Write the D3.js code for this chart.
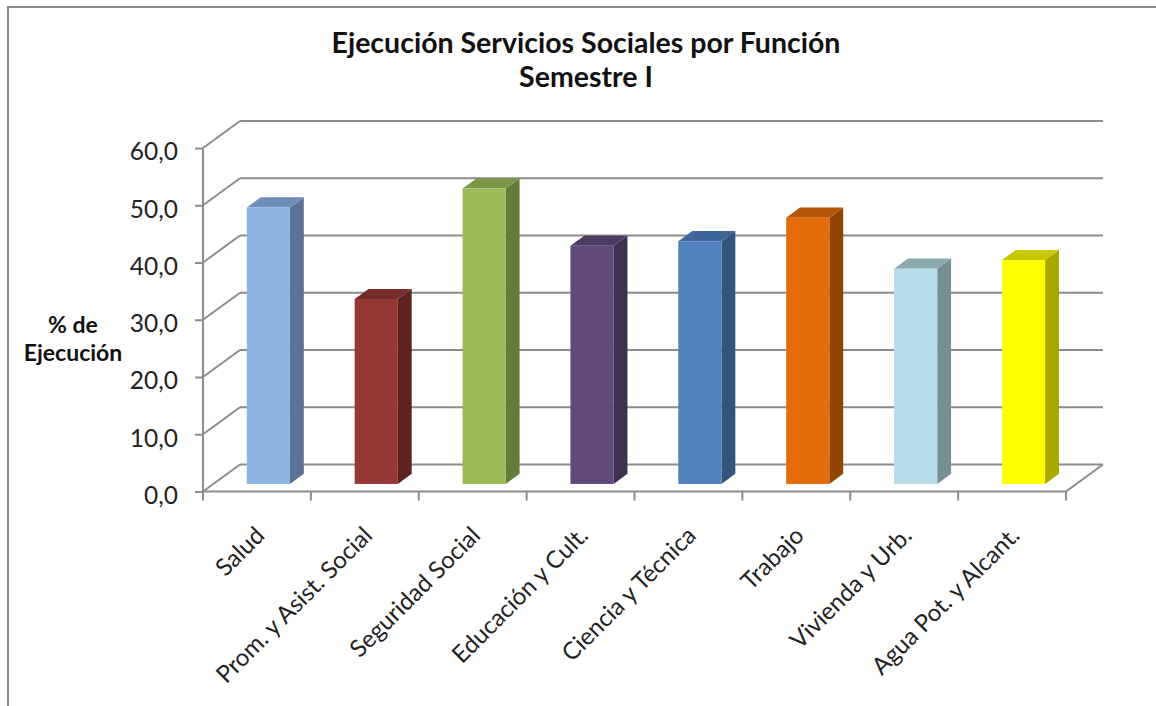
<!DOCTYPE html>
<html><head><meta charset="utf-8">
<script src="https://cdn.jsdelivr.net/npm/d3@7"></script>
<style>body{margin:0;background:#fff}svg{display:block}</style>
</head><body>
<svg id="c" width="1156" height="706"></svg>
<script>
const categories = ["Salud","Prom. y Asist. Social","Seguridad Social","Educación y Cult.","Ciencia y Técnica","Trabajo","Vivienda y Urb.","Agua Pot. y Alcant."];
const values = [48.3, 32.3, 51.6, 41.6, 42.4, 46.5, 37.6, 39.1];
const frontColors = ["#8EB4E3","#953735","#9BBB59","#604A7B","#4F81BD","#E46C0A","#B7DEE8","#FFFF00"];
const sideColors  = ["#5B7496","#5E2221","#667B3A","#3E3051","#33547C","#904505","#758F95","#A8A800"];
const topColors   = ["#6E8DBA","#752D2B","#7C9748","#4C3B63","#3E6699","#B25608","#8DA9B0","#C8C800"];
const yTicks = [0, 10, 20, 30, 40, 50, 60];
const titleLines = ["Ejecución Servicios Sociales por Función", "Semestre I"];
const yLabelLines = ["% de", "Ejecución"];

const svg = d3.select("#c");
const font = "Lato, 'Open Sans', sans-serif";
const grid = "#8c8c8c";

// frame
svg.append("rect").attr("x", 8).attr("y", 7).attr("width", 1200).attr("height", 800)
  .attr("fill", "none").attr("stroke", "#8a8a8a").attr("stroke-width", 2);

const x = d3.scaleBand().domain(categories).range([203, 1066]).padding(0);
const y = d3.scaleLinear().domain([0, 60]).range([491.5, 148]);
const DX = 37, DY = -27; // depth projection
const pt = (px, py, z) => [px + DX * z, py + DY * z];

const g = svg.append("g");

// back wall gridlines
g.selectAll("line.bg").data(yTicks).join("line")
  .attr("x1", 203 + DX).attr("x2", 1066 + DX)
  .attr("y1", d => y(d) + DY).attr("y2", d => y(d) + DY)
  .attr("stroke", grid).attr("stroke-width", 2);
// left wall diagonals
g.selectAll("line.lw").data(yTicks).join("line")
  .attr("x1", 203).attr("y1", d => y(d))
  .attr("x2", 203 + DX).attr("y2", d => y(d) + DY)
  .attr("stroke", grid).attr("stroke-width", 2);
// floor right edge
g.append("line").attr("x1", 1066).attr("y1", y(0)).attr("x2", 1066 + DX).attr("y2", y(0) + DY)
  .attr("stroke", grid).attr("stroke-width", 2);

// bars
const z0 = 0.28, z1 = 0.655;
const bw = x.bandwidth() * 0.4;
const bars = g.selectAll("g.bar").data(values).join("g");
bars.each(function(v, i) {
  const sel = d3.select(this);
  const xl = x(categories[i]) + x.bandwidth() * 0.31;
  const xr = xl + bw;
  const yt = y(v), yb = y(0);
  const poly = pts => pts.map(p => p.join(",")).join(" ");
  sel.append("polygon").attr("points", poly([pt(xr, yt, z0), pt(xr, yt, z1), pt(xr, yb, z1), pt(xr, yb, z0)]))
    .attr("fill", sideColors[i]);
  sel.append("polygon").attr("points", poly([pt(xl, yt, z0), pt(xl, yt, z1), pt(xr, yt, z1), pt(xr, yt, z0)]))
    .attr("fill", topColors[i]);
  const f0 = pt(xl, yt, z0), f1 = pt(xr, yb, z0);
  sel.append("rect").attr("x", f0[0]).attr("y", f0[1]).attr("width", f1[0] - f0[0]).attr("height", f1[1] - f0[1])
    .attr("fill", frontColors[i]);
});

// front axes
const fmt = d3.formatLocale({decimal: ",", thousands: ".", grouping: [3], currency: ["", ""]}).format(".1f");
const yAxis = svg.append("g").attr("transform", "translate(203,0)")
  .call(d3.axisLeft(y).tickValues(yTicks).tickFormat(fmt).tickSize(8).tickPadding(17));
yAxis.select(".domain").attr("stroke", grid).attr("stroke-width", 2).attr("d", `M0,${y(60)}V${y(0)}`);
yAxis.selectAll(".tick line").attr("stroke", grid).attr("stroke-width", 2);
yAxis.selectAll(".tick text").attr("font-family", font).attr("font-size", 24.5).attr("fill", "#222")
  .attr("transform", "translate(0,4)");

const xAxis = svg.append("g").attr("transform", `translate(0,${y(0)})`)
  .call(d3.axisBottom(x).tickValues([]).tickSize(0));
xAxis.select(".domain").attr("stroke", grid).attr("stroke-width", 2).attr("d", "M203,0H1066");
const tickPos = categories.map(c => x(c)).concat([1066]);
xAxis.selectAll("line.xt").data(tickPos).join("line")
  .attr("x1", d => d).attr("x2", d => d).attr("y1", 0).attr("y2", 9)
  .attr("stroke", grid).attr("stroke-width", 2);

// x labels
svg.selectAll("text.xl").data(categories).join("text")
  .attr("transform", d => `translate(${x(d) + x.bandwidth() / 2 + 9},${537}) rotate(-45)`)
  .attr("text-anchor", "end").attr("font-family", font).attr("font-size", 24).attr("fill", "#222")
  .text(d => d);

// title
svg.selectAll("text.t").data(titleLines).join("text")
  .attr("x", 586).attr("y", (d, i) => 53 + i * 34)
  .attr("text-anchor", "middle").attr("font-family", font).attr("font-weight", "bold")
  .attr("font-size", 28.5).attr("fill", "#111").text(d => d);

// y label
svg.selectAll("text.yl").data(yLabelLines).join("text")
  .attr("x", 73).attr("y", (d, i) => 333 + i * 28)
  .attr("text-anchor", "middle").attr("font-family", font).attr("font-weight", "bold")
  .attr("font-size", 23).attr("fill", "#111").text(d => d);
</script>
</body></html>
